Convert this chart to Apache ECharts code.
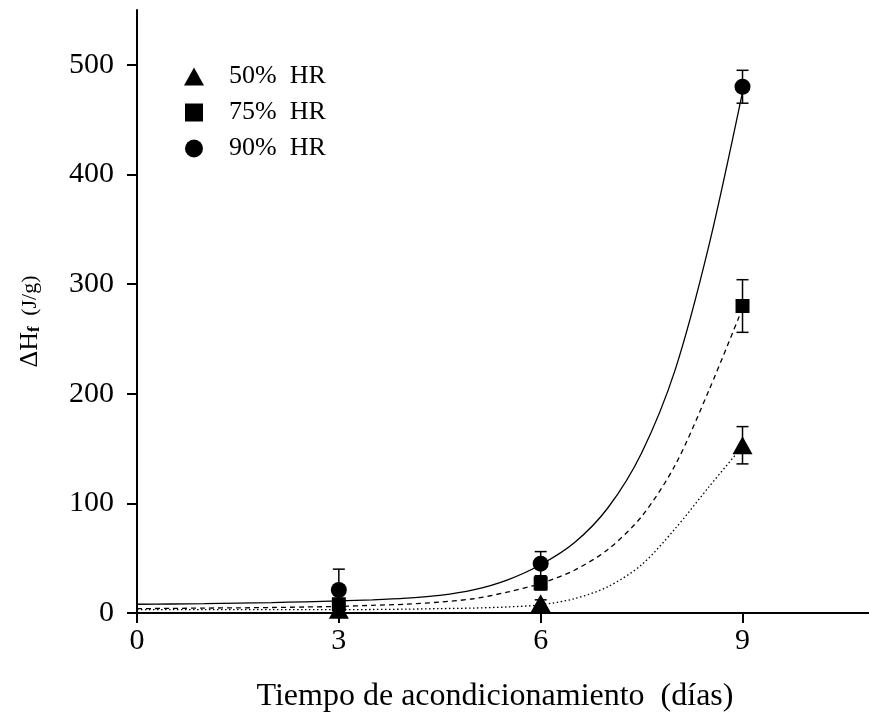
<!DOCTYPE html>
<html>
<head>
<meta charset="utf-8">
<script src="https://cdn.jsdelivr.net/npm/echarts@6/dist/echarts.min.js"></script>
<style>html,body{margin:0;padding:0;background:#fff;}#c{width:869px;height:723px;}</style>
</head>
<body>
<div id="c"></div>
<script>
// Measured points (days of conditioning)
const days = [3, 6, 9];
const hr50 = [3, 9, 153];
const err50 = [2, 3, 17];
const hr75 = [8, 27, 280];
const err75 = [4, 6, 24];
const hr90 = [21, 45, 480];
const err90 = [19, 11, 15];

// Fitted curves
const fitX  = [0, 0.5, 1, 1.5, 2, 2.5, 3, 3.5, 4, 4.5, 5, 5.5, 6, 6.5, 7, 7.5, 8, 8.5, 9];
const fit90 = [8, 8.2, 8.5, 9, 9.5, 10.2, 11, 12, 13.5, 16, 21, 30, 44, 64, 96, 146, 222, 335, 475];
const fit75 = [4, 4.2, 4.5, 4.7, 5, 5.5, 6, 7, 8, 10, 13, 19, 27, 39, 58, 88, 135, 203, 278];
const fit50 = [3, 3, 3, 3, 3, 3, 3, 3.2, 3.5, 4, 4.5, 5.5, 7.5, 13, 24, 44, 77, 115, 152];

const xTicks = [0, 3, 6, 9];
const yTicks = [0, 100, 200, 300, 400, 500];
const names = ['50%  HR', '75%  HR', '90%  HR'];

const FONT = '"Liberation Serif", "DejaVu Serif", serif';

const pts = (ys) => days.map((d, i) => [d, ys[i]]);
const errPts = (ys, es) => days.map((d, i) => [d, ys[i], es[i]]);
const curve = (ys) => fitX.map((x, i) => [x, ys[i]]);

function errRender(params, api) {
  const x = api.value(0), y = api.value(1), e = api.value(2);
  const hi = api.coord([x, y + e]);
  const lo = api.coord([x, y - e]);
  const w = 6;
  const st = {stroke: '#000', lineWidth: 1.5};
  return {
    type: 'group',
    children: [
      {type: 'line', shape: {x1: hi[0], y1: hi[1], x2: lo[0], y2: lo[1]}, style: st},
      {type: 'line', shape: {x1: hi[0] - w, y1: hi[1], x2: hi[0] + w, y2: hi[1]}, style: st},
      {type: 'line', shape: {x1: lo[0] - w, y1: lo[1], x2: lo[0] + w, y2: lo[1]}, style: st}
    ]
  };
}

const chart = echarts.init(document.getElementById('c'), null, {renderer: 'canvas'});
chart.setOption({
  backgroundColor: '#fff',
  animation: false,
  textStyle: {fontFamily: FONT, color: '#000'},
  grid: {left: 137, right: 0, top: 10, bottom: 110},
  legend: {
    orient: 'vertical',
    left: 179,
    top: 56,
    itemWidth: 20,
    itemHeight: 18,
    itemGap: 5,
    data: [
      {name: names[0], icon: 'triangle', itemStyle: {color: '#000', opacity: 1}},
      {name: names[1], icon: 'path://M3,3L17,3L17,17L3,17Z', itemStyle: {color: '#000', opacity: 1}},
      {name: names[2], icon: 'path://M10,1A8,8 0 1,1 9.99,1Z', itemStyle: {color: '#000', opacity: 1}}
    ],
    textStyle: {fontFamily: FONT, fontSize: 26, color: '#000', padding: [0, 0, 0, 20], lineHeight: 31},
    selectedMode: false
  },
  xAxis: [{
    type: 'value',
    min: 0, max: 10.88, interval: 3,
    position: 'bottom',
    axisLine: {show: true, onZero: false, lineStyle: {color: '#000', width: 2}},
    axisTick: {show: true, inside: false, length: 10, lineStyle: {color: '#000', width: 2},
      customValues: xTicks},
    axisLabel: {fontFamily: FONT, fontSize: 30, color: '#000', margin: 13,
      customValues: xTicks},
    splitLine: {show: false},
    name: 'Tiempo de acondicionamiento  (días)',
    nameLocation: 'middle',
    nameGap: 68,
    nameTextStyle: {fontFamily: FONT, fontSize: 32, color: '#000', padding: [0, 16, 0, 0]}
  }, {
    type: 'value',
    min: 0, max: 10.88,
    position: 'top',
    axisLine: {show: true, lineStyle: {color: '#000', width: 2}},
    axisTick: {show: false},
    axisLabel: {show: false},
    splitLine: {show: false}
  }],
  yAxis: {
    type: 'value',
    min: 0, max: 550, interval: 100,
    axisLine: {show: true, onZero: false, lineStyle: {color: '#000', width: 2}},
    axisTick: {show: true, inside: false, length: 10, lineStyle: {color: '#000', width: 2},
      customValues: yTicks},
    axisLabel: {fontFamily: FONT, fontSize: 30, color: '#000', margin: 23,
      customValues: yTicks},
    splitLine: {show: false},
    name: '{a|ΔH}{b|f}{c| (J/g)}',
    nameLocation: 'middle',
    nameRotate: 90,
    nameGap: 94,
    nameTextStyle: {
      fontFamily: FONT, color: '#000', padding: [0, 20, 0, 0],
      rich: {
        a: {fontFamily: FONT, fontSize: 26, color: '#000'},
        b: {fontFamily: FONT, fontSize: 17, fontWeight: 'bold', color: '#000', verticalAlign: 'bottom', padding: [9, 5, 0, 0]},
        c: {fontFamily: FONT, fontSize: 22, color: '#000'}
      }
    }
  },
  series: [
    {type: 'line', name: 'fit50', data: curve(fit50), smooth: 0.3,
      showSymbol: false, symbol: 'none', lineStyle: {color: '#000', width: 1.3, type: [1.5, 2.5]}, z: 2, silent: true},
    {type: 'line', name: 'fit75', data: curve(fit75), smooth: 0.3,
      showSymbol: false, symbol: 'none', lineStyle: {color: '#000', width: 1.3, type: [5, 4]}, z: 2, silent: true},
    {type: 'line', name: 'fit90', data: curve(fit90), smooth: 0.3,
      showSymbol: false, symbol: 'none', lineStyle: {color: '#000', width: 1.3, type: 'solid'}, z: 2, silent: true},
    {type: 'custom', name: 'e50', data: errPts(hr50, err50), renderItem: errRender, z: 3, silent: true},
    {type: 'custom', name: 'e75', data: errPts(hr75, err75), renderItem: errRender, z: 3, silent: true},
    {type: 'custom', name: 'e90', data: errPts(hr90, err90), renderItem: errRender, z: 3, silent: true},
    {type: 'scatter', name: names[0], data: pts(hr50), symbol: 'triangle', symbolSize: [20, 18],
      itemStyle: {color: '#000', opacity: 1}, z: 5},
    {type: 'scatter', name: names[1], data: pts(hr75), symbol: 'rect', symbolSize: 14,
      itemStyle: {color: '#000', opacity: 1}, z: 5},
    {type: 'scatter', name: names[2], data: pts(hr90), symbol: 'circle', symbolSize: 16,
      itemStyle: {color: '#000', opacity: 1}, z: 5}
  ]
});
</script>
</body>
</html>
